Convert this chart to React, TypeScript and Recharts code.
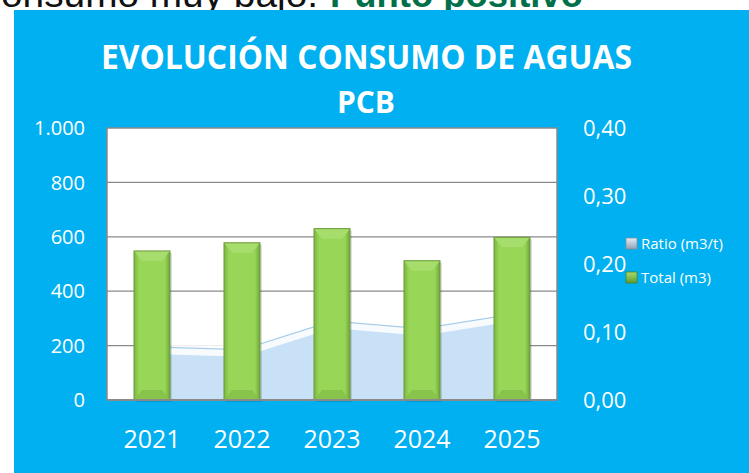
import React from "react";
import { ComposedChart, Bar, Area, XAxis, YAxis, CartesianGrid } from "recharts";

const years = ["2021", "2022", "2023", "2024", "2025"];
const totalM3 = [548, 578, 630, 512, 598];
const ratioM3t = [0.078, 0.074, 0.116, 0.105, 0.126];
const leftTicks = [0, 200, 400, 600, 800, 1000];
const rightTicks = [0, 0.1, 0.2, 0.3, 0.4];
const seriesNames = ["Ratio (m3/t)", "Total (m3)"];
const titleLine1 = "EVOLUCIÓN CONSUMO DE AGUAS";
const titleLine2 = "PCB";
const headerBlack = "Consumo muy bajo.";
const headerGreen = "Punto positivo";

const data = years.map((y, i) => ({ year: y, total: totalM3[i], ratio: ratioM3t[i] }));

const W = 749;
const H = 473;
const FONT = "'Open Sans', 'Noto Sans', sans-serif";

const fmtLeft = (v: number) => (v >= 1000 ? `${Math.floor(v / 1000)}.${String(v % 1000).padStart(3, "0")}` : String(v));
const fmtRight = (v: number) => v.toFixed(2).replace(".", ",");

const BarShape = (props: any) => {
  const { x, y, width: w, height: h, index } = props;
  if (!h || h <= 0) return null;
  const b = Math.min(10, h / 2);
  const s = 8;
  const id = `barGrad${index}`;
  return (
    <g>
      <defs>
        <linearGradient id={id} x1="0" y1="0" x2="1" y2="0">
          <stop offset="0%" stopColor="#7ab641" />
          <stop offset="14%" stopColor="#98d658" />
          <stop offset="86%" stopColor="#98d658" />
          <stop offset="100%" stopColor="#6fa63a" />
        </linearGradient>
      </defs>
      <rect x={x + 2} y={y + 2} width={w} height={h} fill="#000" opacity={0.12} />
      <rect x={x} y={y} width={w} height={h} fill={`url(#${id})`} />
      <polygon points={`${x},${y} ${x + w},${y} ${x + w - s},${y + b} ${x + s},${y + b}`} fill="#a9de6f" opacity={0.9} />
      <polygon points={`${x},${y + h} ${x + w},${y + h} ${x + w - s},${y + h - b} ${x + s},${y + h - b}`} fill="#86c24b" opacity={0.9} />
      <rect x={x} y={y} width={w} height={h} fill="none" stroke="#6b9a3a" strokeWidth={1} />
    </g>
  );
};

const LeftTick = (props: any) => {
  const { x, y, payload } = props;
  return (
    <text x={x} y={y} dy="0.36em" textAnchor="end" fill="#ffffff" fontSize={20} fontFamily={FONT}>
      {fmtLeft(payload.value)}
    </text>
  );
};

const RightTick = (props: any) => {
  const { x, y, payload } = props;
  return (
    <text x={x} y={y} dy="0.36em" textAnchor="start" fill="#ffffff" fontSize={22} fontFamily={FONT}>
      {fmtRight(payload.value)}
    </text>
  );
};

const XTick = (props: any) => {
  const { x, y, payload } = props;
  return (
    <text x={x} y={y + 48} textAnchor="middle" fill="#ffffff" fontSize={25} fontFamily={FONT}>
      {payload.value}
    </text>
  );
};

export default function App() {
  return (
    <div style={{ position: "absolute", left: 0, top: 0, width: W, height: H, background: "#ffffff", overflow: "hidden" }}>
      <svg width={W} height={H} style={{ position: "absolute", left: 0, top: 0 }}>
        <text x={-27} y={7} fontSize={37} fill="#111111" fontFamily="'Liberation Sans', Arial, sans-serif" textLength={345} lengthAdjust="spacingAndGlyphs">
          {headerBlack}
        </text>
        <text x={330} y={7} fontSize={36} fontWeight="bold" fill="#00704a" fontFamily="'Liberation Sans', Arial, sans-serif" textLength={253} lengthAdjust="spacingAndGlyphs">
          {headerGreen}
        </text>
      </svg>
      <div style={{ position: "absolute", left: 14, top: 10, width: W - 14, height: H - 10, background: "#00b0f0" }} />
      <div style={{ position: "absolute", left: 0, top: 0 }}>
        <ComposedChart width={W} height={H} data={data} margin={{ top: 128, right: 0, bottom: 0, left: 0 }}>
          <CartesianGrid yAxisId="left" vertical={false} stroke="#8a8a8a" strokeWidth={1.3} fill="#ffffff" fillOpacity={1} />
          <XAxis
            dataKey="year"
            height={73}
            axisLine={{ stroke: "#8a8a8a", strokeWidth: 2 }}
            tickLine={false}
            tickSize={0}
            tickMargin={0}
            tick={<XTick />}
            interval={0}
          />
          <YAxis
            yAxisId="left"
            orientation="left"
            width={107}
            domain={[0, 1000]}
            ticks={leftTicks}
            axisLine={{ stroke: "#8a8a8a", strokeWidth: 1.5 }}
            tickLine={false}
            tickSize={0}
            tickMargin={22}
            tick={<LeftTick />}
            interval={0}
          />
          <YAxis
            yAxisId="right"
            orientation="right"
            width={192}
            domain={[0, 0.4]}
            ticks={rightTicks}
            axisLine={{ stroke: "#8a8a8a", strokeWidth: 1.5 }}
            tickLine={false}
            tickSize={0}
            tickMargin={26}
            tick={<RightTick />}
            interval={0}
          />
          <Area
            yAxisId="right"
            type="linear"
            dataKey="ratio"
            name={seriesNames[0]}
            fill="#c8e1f6"
            fillOpacity={1}
            stroke="#ffffff"
            strokeOpacity={0.85}
            strokeWidth={14}
            dot={false}
            activeDot={false}
            isAnimationActive={false}
          />
          <Area
            yAxisId="right"
            type="linear"
            dataKey="ratio"
            legendType="none"
            fill="none"
            fillOpacity={0}
            stroke="#a9cde9"
            strokeWidth={1.2}
            dot={false}
            activeDot={false}
            isAnimationActive={false}
          />
          <Bar
            yAxisId="left"
            dataKey="total"
            name={seriesNames[1]}
            barSize={36}
            fill="#98d658"
            shape={<BarShape />}
            isAnimationActive={false}
          />
        </ComposedChart>
      </div>
      <svg width={W} height={H} style={{ position: "absolute", left: 0, top: 0, pointerEvents: "none" }}>
        <text x={101} y={68.5} fontSize={33.5} fontWeight="bold" fill="#ffffff" fontFamily={FONT} textLength={531} lengthAdjust="spacingAndGlyphs">
          {titleLine1}
        </text>
        <text x={337} y={113} fontSize={31} fontWeight="bold" fill="#ffffff" fontFamily={FONT} textLength={58} lengthAdjust="spacingAndGlyphs">
          {titleLine2}
        </text>
        <defs>
          <linearGradient id="legRatio" x1="0" y1="0" x2="0" y2="1">
            <stop offset="0%" stopColor="#e6edf4" />
            <stop offset="100%" stopColor="#8fa3b8" />
          </linearGradient>
          <linearGradient id="legTotal" x1="0" y1="0" x2="0" y2="1">
            <stop offset="0%" stopColor="#a9dc70" />
            <stop offset="100%" stopColor="#5f9a2e" />
          </linearGradient>
        </defs>
        <rect x={626} y={238} width={11} height={11} fill="url(#legRatio)" stroke="#7f8fa0" strokeWidth={0.8} />
        <text x={641} y={249} fontSize={15} fill="#ffffff" fontFamily={FONT}>
          {seriesNames[0]}
        </text>
        <rect x={626} y={272} width={11} height={11} fill="url(#legTotal)" stroke="#4f7f25" strokeWidth={0.8} />
        <text x={641} y={283} fontSize={15} fill="#ffffff" fontFamily={FONT}>
          {seriesNames[1]}
        </text>
      </svg>
    </div>
  );
}
